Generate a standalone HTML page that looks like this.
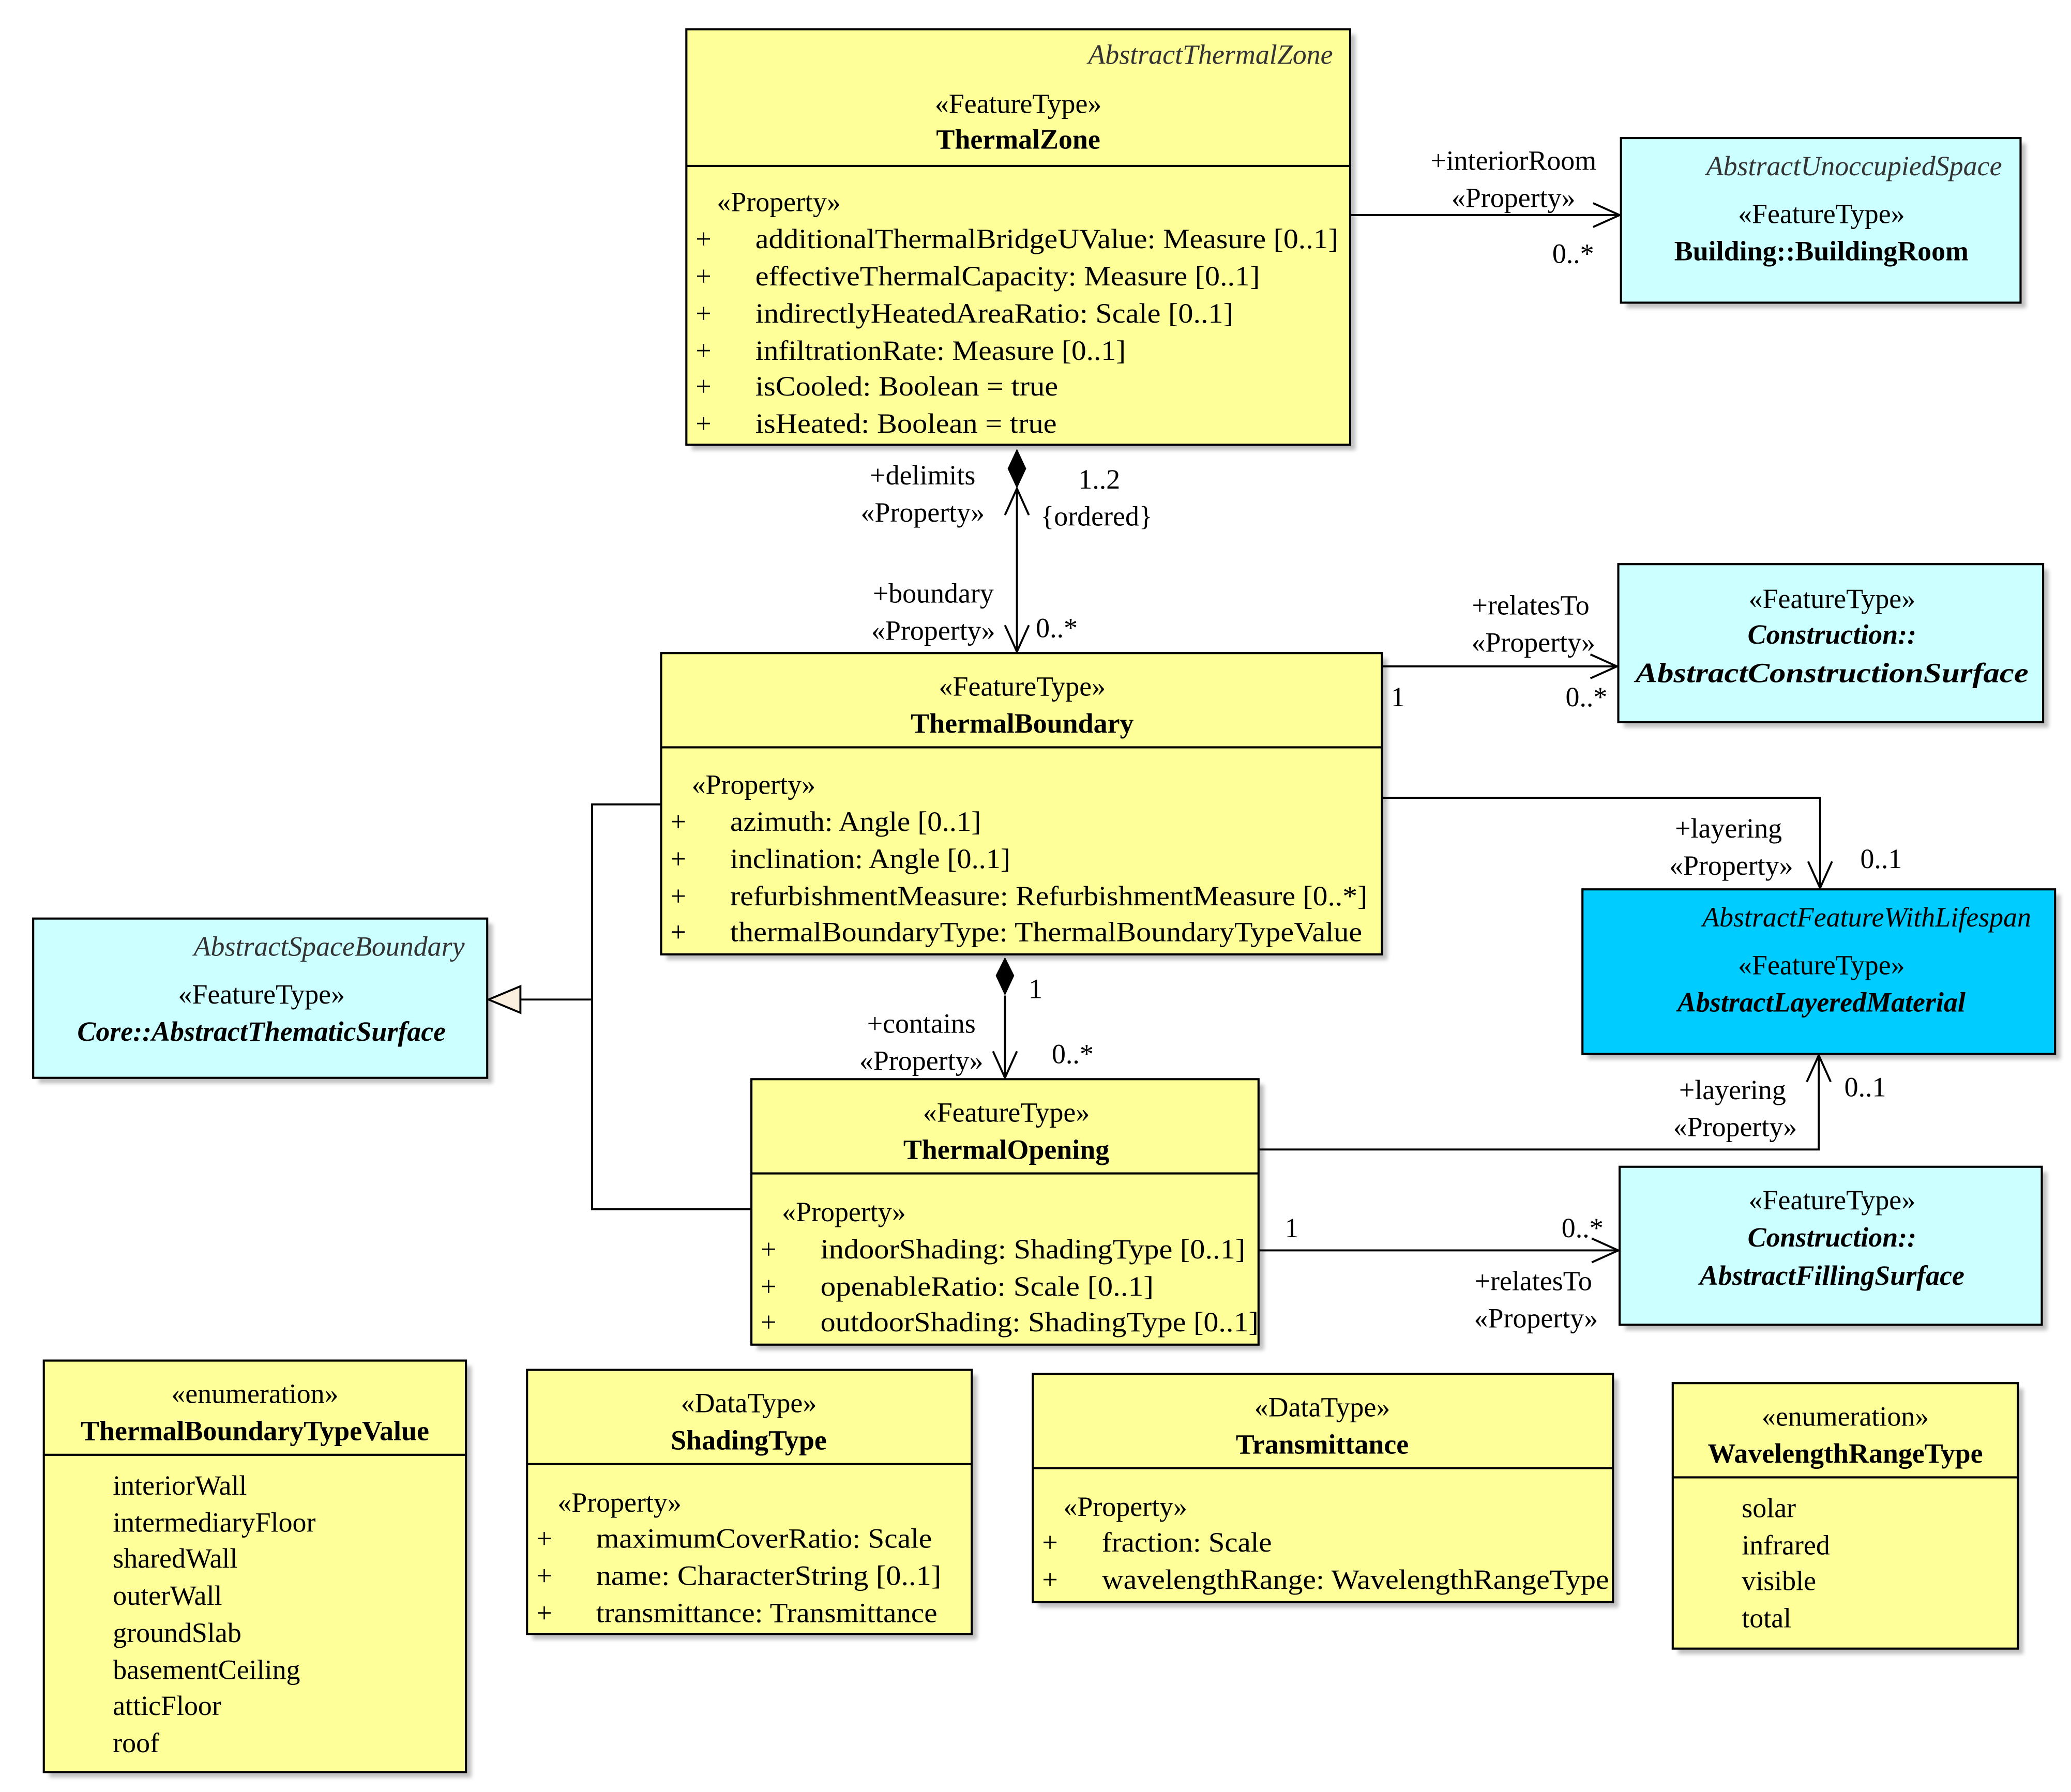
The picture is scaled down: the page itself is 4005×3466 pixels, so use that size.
<!DOCTYPE html>
<html><head><meta charset="utf-8"><style>
html,body{margin:0;padding:0;background:#fff;}
svg{display:block;font-family:"Liberation Serif","Times New Roman",Times,serif;}
svg text{font-family:"Liberation Serif","Times New Roman",Times,serif;font-size:21px;fill:#000;}
.c{text-anchor:middle;}
.r{text-anchor:end;}
.b{font-weight:bold;}
.i{font-style:italic;}
.g{fill:#333;}
</style></head><body>
<svg width="4005" height="3466" viewBox="0 0 1560 1350" xmlns="http://www.w3.org/2000/svg" font-family="Liberation Serif, Times New Roman, serif">
<defs>
<filter id="sh" x="-5%" y="-5%" width="115%" height="115%"><feOffset dx="4" dy="4"/><feGaussianBlur stdDeviation="1.5"/><feComponentTransfer><feFuncA type="linear" slope="0.25"/></feComponentTransfer></filter>
</defs>
<g fill="#000" filter="url(#sh)">
<rect x="517" y="22" width="500" height="313"/>
<rect x="1221" y="104" width="301" height="124"/>
<rect x="498" y="492" width="543" height="227"/>
<rect x="1219" y="425" width="320" height="119"/>
<rect x="1192" y="670" width="356" height="124"/>
<rect x="25" y="692" width="342" height="120"/>
<rect x="566" y="813" width="382" height="200"/>
<rect x="1220" y="879" width="318" height="119"/>
<rect x="33" y="1025" width="318" height="310"/>
<rect x="397" y="1032" width="335" height="199"/>
<rect x="778" y="1035" width="437" height="172"/>
<rect x="1260" y="1042" width="260" height="200"/>
</g>
<g stroke="#000" stroke-width="1.6">
<rect x="517" y="22" width="500" height="313" fill="#ffff99"/><line x1="517" y1="125" x2="1017" y2="125"/>
<rect x="1221" y="104" width="301" height="124" fill="#ccffff"/>
<rect x="498" y="492" width="543" height="227" fill="#ffff99"/><line x1="498" y1="563" x2="1041" y2="563"/>
<rect x="1219" y="425" width="320" height="119" fill="#ccffff"/>
<rect x="1192" y="670" width="356" height="124" fill="#00ccff"/>
<rect x="25" y="692" width="342" height="120" fill="#ccffff"/>
<rect x="566" y="813" width="382" height="200" fill="#ffff99"/><line x1="566" y1="884" x2="948" y2="884"/>
<rect x="1220" y="879" width="318" height="119" fill="#ccffff"/>
<rect x="33" y="1025" width="318" height="310" fill="#ffff99"/><line x1="33" y1="1096" x2="351" y2="1096"/>
<rect x="397" y="1032" width="335" height="199" fill="#ffff99"/><line x1="397" y1="1103" x2="732" y2="1103"/>
<rect x="778" y="1035" width="437" height="172" fill="#ffff99"/><line x1="778" y1="1106" x2="1215" y2="1106"/>
<rect x="1260" y="1042" width="260" height="200" fill="#ffff99"/><line x1="1260" y1="1113" x2="1520" y2="1113"/>
</g>
<g stroke="#000" stroke-width="1.5" fill="none">
<line x1="1017" y1="162" x2="1220" y2="162"/><polyline points="1200,153 1220,162 1200,171"/>
<line x1="766" y1="368" x2="766" y2="491"/><polyline points="757,471 766,491 775,471"/><polyline points="757,388 766,368 775,388"/>
<line x1="1041" y1="502" x2="1218" y2="502"/><polyline points="1198,493 1218,502 1198,511"/>
<polyline points="1041,601 1371,601 1371,669"/><polyline points="1362,649 1371,669 1380,649"/>
<line x1="757" y1="750" x2="757" y2="812"/><polyline points="748,792 757,812 766,792"/>
<polyline points="948,866 1370,866 1370,795"/><polyline points="1361,815 1370,795 1379,815"/>
<line x1="948" y1="942" x2="1219" y2="942"/><polyline points="1199,933 1219,942 1199,951"/>
<polyline points="498,606 446,606 446,911 566,911"/>
<line x1="446" y1="753" x2="392" y2="753"/>
</g>
<polygon points="766,338 773,353 766,368 759,353" fill="#000"/>
<polygon points="757,721 764,735 757,750 750,735" fill="#000"/>
<polygon points="368,753 392,743 392,763" fill="#fbefe0" stroke="#000" stroke-width="1.5"/>
<text x="1004" y="48" class="r i g">AbstractThermalZone</text>
<text x="767" y="85" class="c">«FeatureType»</text>
<text x="767" y="112" class="c b">ThermalZone</text>
<text x="540" y="159">«Property»</text>
<g class="g">
<text x="524" y="187">+</text><text x="569" y="187" textLength="439" lengthAdjust="spacingAndGlyphs">additionalThermalBridgeUValue: Measure [0..1]</text>
<text x="524" y="215">+</text><text x="569" y="215" textLength="380" lengthAdjust="spacingAndGlyphs">effectiveThermalCapacity: Measure [0..1]</text>
<text x="524" y="243">+</text><text x="569" y="243" textLength="360" lengthAdjust="spacingAndGlyphs">indirectlyHeatedAreaRatio: Scale [0..1]</text>
<text x="524" y="271">+</text><text x="569" y="271" textLength="279" lengthAdjust="spacingAndGlyphs">infiltrationRate: Measure [0..1]</text>
<text x="524" y="298">+</text><text x="569" y="298" textLength="228" lengthAdjust="spacingAndGlyphs">isCooled: Boolean = true</text>
<text x="524" y="326">+</text><text x="569" y="326" textLength="227" lengthAdjust="spacingAndGlyphs">isHeated: Boolean = true</text>
</g>
<text x="1508" y="132" class="r i g">AbstractUnoccupiedSpace</text>
<text x="1372" y="168" class="c">«FeatureType»</text>
<text x="1372" y="196" class="c b">Building::BuildingRoom</text>
<text x="770" y="524" class="c">«FeatureType»</text>
<text x="770" y="552" class="c b">ThermalBoundary</text>
<text x="521" y="598">«Property»</text>
<g class="g">
<text x="505" y="626">+</text><text x="550" y="626" textLength="189" lengthAdjust="spacingAndGlyphs">azimuth: Angle [0..1]</text>
<text x="505" y="654">+</text><text x="550" y="654" textLength="211" lengthAdjust="spacingAndGlyphs">inclination: Angle [0..1]</text>
<text x="505" y="682">+</text><text x="550" y="682" textLength="480" lengthAdjust="spacingAndGlyphs">refurbishmentMeasure: RefurbishmentMeasure [0..*]</text>
<text x="505" y="709">+</text><text x="550" y="709" textLength="476" lengthAdjust="spacingAndGlyphs">thermalBoundaryType: ThermalBoundaryTypeValue</text>
</g>
<text x="1380" y="458" class="c">«FeatureType»</text>
<text x="1380" y="485" class="c b i">Construction::</text>
<text x="1380" y="514" class="c b i" textLength="296" lengthAdjust="spacingAndGlyphs">AbstractConstructionSurface</text>
<text x="1530" y="698" class="r i">AbstractFeatureWithLifespan</text>
<text x="1372" y="734" class="c">«FeatureType»</text>
<text x="1372" y="762" class="c b i">AbstractLayeredMaterial</text>
<text x="350" y="720" class="r i g">AbstractSpaceBoundary</text>
<text x="197" y="756" class="c">«FeatureType»</text>
<text x="197" y="784" class="c b i">Core::AbstractThematicSurface</text>
<text x="758" y="845" class="c">«FeatureType»</text>
<text x="758" y="873" class="c b">ThermalOpening</text>
<text x="589" y="920">«Property»</text>
<g class="g">
<text x="573" y="948">+</text><text x="618" y="948" textLength="320" lengthAdjust="spacingAndGlyphs">indoorShading: ShadingType [0..1]</text>
<text x="573" y="976">+</text><text x="618" y="976" textLength="251" lengthAdjust="spacingAndGlyphs">openableRatio: Scale [0..1]</text>
<text x="573" y="1003">+</text><text x="618" y="1003" textLength="330" lengthAdjust="spacingAndGlyphs">outdoorShading: ShadingType [0..1]</text>
</g>
<text x="1380" y="911" class="c">«FeatureType»</text>
<text x="1380" y="939" class="c b i">Construction::</text>
<text x="1380" y="968" class="c b i">AbstractFillingSurface</text>
<text x="192" y="1057" class="c">«enumeration»</text>
<text x="192" y="1085" class="c b">ThermalBoundaryTypeValue</text>
<g class="g">
<text x="85" y="1126">interiorWall</text>
<text x="85" y="1154">intermediaryFloor</text>
<text x="85" y="1181">sharedWall</text>
<text x="85" y="1209">outerWall</text>
<text x="85" y="1237">groundSlab</text>
<text x="85" y="1265">basementCeiling</text>
<text x="85" y="1292">atticFloor</text>
<text x="85" y="1320">roof</text>
</g>
<text x="564" y="1064" class="c">«DataType»</text>
<text x="564" y="1092" class="c b">ShadingType</text>
<text x="420" y="1139">«Property»</text>
<g class="g">
<text x="404" y="1166">+</text><text x="449" y="1166" textLength="253" lengthAdjust="spacingAndGlyphs">maximumCoverRatio: Scale</text>
<text x="404" y="1194">+</text><text x="449" y="1194" textLength="260" lengthAdjust="spacingAndGlyphs">name: CharacterString [0..1]</text>
<text x="404" y="1222">+</text><text x="449" y="1222" textLength="257" lengthAdjust="spacingAndGlyphs">transmittance: Transmittance</text>
</g>
<text x="996" y="1067" class="c">«DataType»</text>
<text x="996" y="1095" class="c b">Transmittance</text>
<text x="801" y="1142">«Property»</text>
<g class="g">
<text x="785" y="1169">+</text><text x="830" y="1169" textLength="128" lengthAdjust="spacingAndGlyphs">fraction: Scale</text>
<text x="785" y="1197">+</text><text x="830" y="1197" textLength="382" lengthAdjust="spacingAndGlyphs">wavelengthRange: WavelengthRangeType</text>
</g>
<text x="1390" y="1074" class="c">«enumeration»</text>
<text x="1390" y="1102" class="c b">WavelengthRangeType</text>
<g class="g">
<text x="1312" y="1143">solar</text>
<text x="1312" y="1171">infrared</text>
<text x="1312" y="1198">visible</text>
<text x="1312" y="1226">total</text>
</g>
<g class="g">
<text x="1140" y="128" class="c">+interiorRoom</text>
<text x="1140" y="156" class="c">«Property»</text>
<text x="1185" y="198" class="c">0..*</text>
<text x="695" y="365" class="c">+delimits</text>
<text x="695" y="393" class="c">«Property»</text>
<text x="828" y="368" class="c">1..2</text>
<text x="826" y="396" class="c">{ordered}</text>
<text x="703" y="454" class="c">+boundary</text>
<text x="703" y="482" class="c">«Property»</text>
<text x="796" y="480" class="c">0..*</text>
<text x="1153" y="463" class="c">+relatesTo</text>
<text x="1155" y="491" class="c">«Property»</text>
<text x="1053" y="532" class="c">1</text>
<text x="1195" y="532" class="c">0..*</text>
<text x="1302" y="631" class="c">+layering</text>
<text x="1304" y="659" class="c">«Property»</text>
<text x="1417" y="654" class="c">0..1</text>
<text x="780" y="752" class="c">1</text>
<text x="694" y="778" class="c">+contains</text>
<text x="694" y="806" class="c">«Property»</text>
<text x="808" y="801" class="c">0..*</text>
<text x="1305" y="828" class="c">+layering</text>
<text x="1307" y="856" class="c">«Property»</text>
<text x="1405" y="826" class="c">0..1</text>
<text x="973" y="932" class="c">1</text>
<text x="1192" y="932" class="c">0..*</text>
<text x="1155" y="972" class="c">+relatesTo</text>
<text x="1157" y="1000" class="c">«Property»</text>
</g>
</svg>
</body></html>
